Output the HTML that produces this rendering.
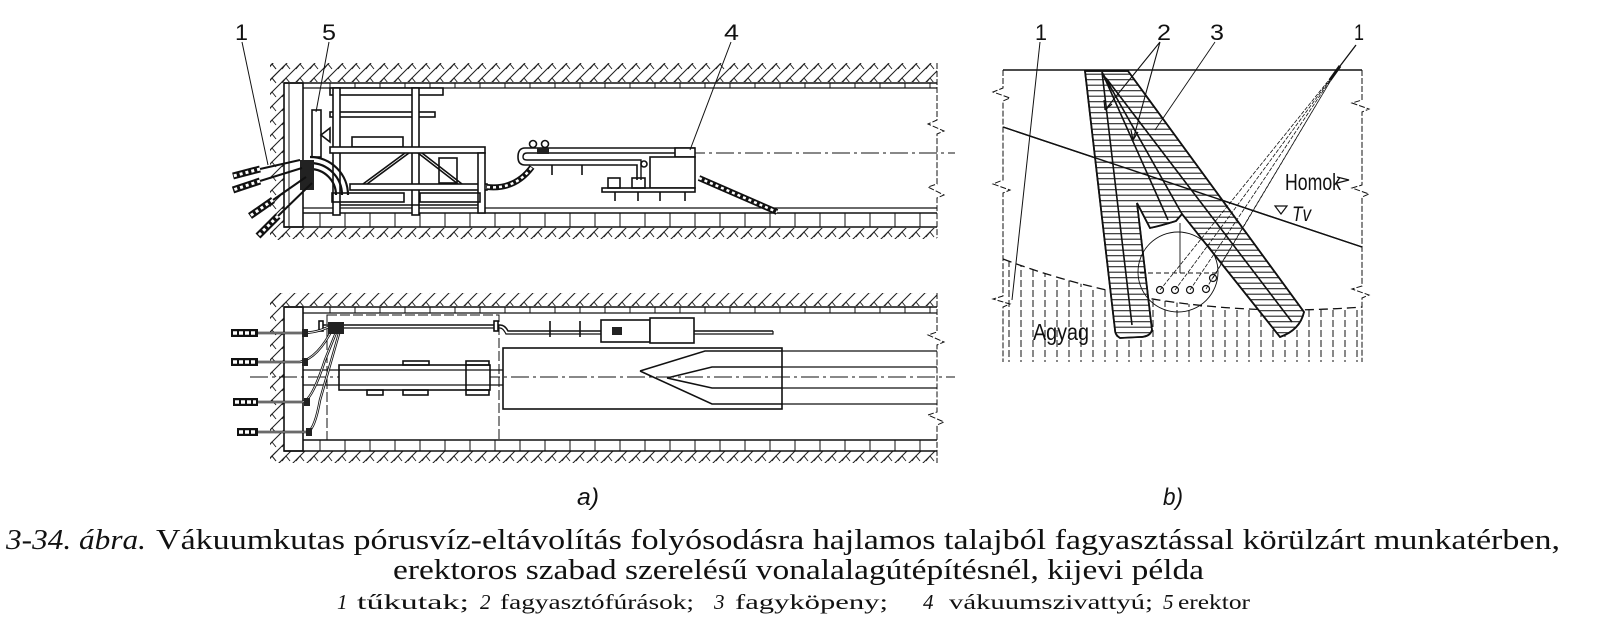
<!DOCTYPE html>
<html><head><meta charset="utf-8"><style>
html,body{margin:0;padding:0;background:#fff;}
svg{display:block;}
</style></head><body>
<svg width="1600" height="640" viewBox="0 0 1600 640" xmlns="http://www.w3.org/2000/svg">
<defs>
<pattern id="h" patternUnits="userSpaceOnUse" width="14" height="14">
<path d="M0 14 L14 0 M-4 4 L4 -4 M10 18 L18 10" stroke="#222" stroke-width="1.1"/>
<path d="M2 13 L6 8 L10 13" stroke="#222" stroke-width="1" fill="none"/>
</pattern>
<pattern id="hz" patternUnits="userSpaceOnUse" width="10" height="5.5">
<path d="M0 2.7 L10 2.7" stroke="#222" stroke-width="1.1"/>
</pattern>
<clipPath id="clay"><path d="M1003 259 Q1170 322 1362 307 L1362 362 L1003 362 Z"/></clipPath>
</defs>
<g fill="none" stroke="#111" stroke-width="1.6">

<!-- ===== TOP TUNNEL ===== -->
<rect x="270" y="63" width="667" height="19" fill="url(#h)" stroke="none"/>
<rect x="270" y="63" width="14" height="177" fill="url(#h)" stroke="none"/>
<rect x="270" y="228" width="667" height="11" fill="url(#h)" stroke="none"/>
<line x1="284" y1="83" x2="937" y2="83"/>
<line x1="303" y1="88" x2="937" y2="88" stroke-width="1.2"/>
<path d="M330 83V88M355 83V88M380 83V88M405 83V88M430 83V88M455 83V88M480 83V88M505 83V88M530 83V88M555 83V88M580 83V88M605 83V88M630 83V88M655 83V88M680 83V88M705 83V88M730 83V88M755 83V88M780 83V88M805 83V88M830 83V88M855 83V88M880 83V88M905 83V88M930 83V88" stroke-width="1"/>
<rect x="284" y="83" width="19" height="144"/>
<line x1="289" y1="83" x2="289" y2="227" stroke-width="1"/>
<line x1="303" y1="208" x2="937" y2="208" stroke-width="1.2"/>
<line x1="303" y1="213" x2="937" y2="213"/>
<line x1="284" y1="227" x2="937" y2="227"/>
<path d="M320 213V227M345 213V227M370 213V227M395 213V227M420 213V227M445 213V227M470 213V227M495 213V227M520 213V227M545 213V227M570 213V227M595 213V227M620 213V227M645 213V227M670 213V227M695 213V227M720 213V227M745 213V227M770 213V227M795 213V227M820 213V227M845 213V227M870 213V227M895 213V227M920 213V227" stroke-width="1"/>
<path d="M937 63 V120 L928 124 L944 131 L937 134 V184 L928 187 L944 195 L937 198 V238" stroke-width="1" stroke-dasharray="6 2"/>
<line x1="600" y1="153" x2="955" y2="153" stroke-width="1" stroke-dasharray="18 4 3 4"/>
<!-- machine -->
<rect x="330" y="88" width="113" height="7" fill="#fff"/>
<rect x="330" y="112" width="105" height="5" fill="#fff"/>
<rect x="333" y="88" width="7" height="127" fill="#fff"/>
<rect x="412" y="88" width="7" height="127" fill="#fff"/>
<rect x="312" y="110" width="9" height="47" fill="#fff"/>
<path d="M321 135 L330 128 L330 142 Z"/>
<rect x="352" y="137" width="51" height="10" fill="#fff"/>
<rect x="330" y="147" width="155" height="6" fill="#fff"/>
<rect x="350" y="184" width="137" height="6" fill="#fff"/>
<path d="M363 184 L405 153 M422 153 L462 184 M367 184 L409 153 M418 153 L458 184"/>
<rect x="439" y="158" width="18" height="25"/>
<rect x="478" y="153" width="7" height="60" fill="#fff"/>
<rect x="332" y="193" width="72" height="9"/>
<rect x="420" y="193" width="60" height="9"/>
<line x1="340" y1="205" x2="478" y2="205"/>
<path d="M310 157 A38 38 0 0 1 348 195 M310 163 A32 32 0 0 1 342 195 M310 169 A26 26 0 0 1 336 195" stroke-width="2.2"/>
<rect x="300" y="160" width="14" height="30" fill="#222" stroke="none"/>
<!-- drills -->
<path d="M300 160 L260 169 M302 168 L260 181 M306 177 L273 200 M312 183 L278 216" stroke-width="2"/>
<path d="M260 169 L233 176 M260 181 L233 190 M273 200 L250 216 M278 216 L258 236" stroke="#111" stroke-width="7"/>
<path d="M260 169 L233 176 M260 181 L233 190 M273 200 L250 216 M278 216 L258 236" stroke="#fff" stroke-width="3" stroke-dasharray="3 3"/>
<!-- hose + pump -->
<path d="M487 187 Q515 190 532 167" stroke="#111" stroke-width="6"/>
<path d="M487 187 Q515 190 532 167" stroke="#fff" stroke-width="2.5" stroke-dasharray="3 3"/>
<path d="M695 148 H525 Q518 148 518 157 Q518 165 525 165 H637 V180" stroke-width="1.6"/>
<path d="M695 153 H527 Q523 153 523 157 Q523 160 527 160 H641 V180" stroke-width="1.4"/>
<circle cx="533" cy="144" r="3.5"/><circle cx="545" cy="144" r="3.5"/>
<rect x="537" y="148" width="12" height="6" fill="#222" stroke="none"/>
<rect x="675" y="148" width="20" height="9" fill="#fff"/>
<rect x="650" y="157" width="45" height="31" fill="#fff"/>
<rect x="602" y="188" width="93" height="4" fill="#fff"/>
<path d="M615 192V201M638 192V201M660 192V201M685 192V201M552 165V175M582 165V175"/>
<rect x="608" y="178" width="12" height="10"/><rect x="632" y="178" width="13" height="10"/>
<circle cx="644" cy="164" r="3"/>
<path d="M699 178 L777 212" stroke="#111" stroke-width="6"/>
<path d="M699 178 L777 212" stroke="#fff" stroke-width="2.5" stroke-dasharray="3 3"/>
<!-- leaders -->
<path d="M242 42 L268 165 M329 42 L316 112 M731 42 L690 150" stroke-width="1"/>

<!-- ===== BOTTOM TUNNEL ===== -->
<rect x="270" y="293" width="667" height="13" fill="url(#h)" stroke="none"/>
<rect x="270" y="293" width="14" height="170" fill="url(#h)" stroke="none"/>
<rect x="270" y="451" width="667" height="12" fill="url(#h)" stroke="none"/>
<line x1="284" y1="307" x2="937" y2="307"/>
<line x1="303" y1="313" x2="937" y2="313" stroke-width="1.2"/>
<path d="M330 307V313M355 307V313M380 307V313M405 307V313M430 307V313M455 307V313M480 307V313M505 307V313M530 307V313M555 307V313M580 307V313M605 307V313M630 307V313M655 307V313M680 307V313M705 307V313M730 307V313M755 307V313M780 307V313M805 307V313M830 307V313M855 307V313M880 307V313M905 307V313M930 307V313" stroke-width="1"/>
<rect x="284" y="307" width="19" height="144"/>
<line x1="303" y1="440" x2="937" y2="440"/>
<line x1="284" y1="451" x2="937" y2="451"/>
<path d="M320 440V451M345 440V451M370 440V451M395 440V451M420 440V451M445 440V451M470 440V451M495 440V451M520 440V451M545 440V451M570 440V451M595 440V451M620 440V451M645 440V451M670 440V451M695 440V451M720 440V451M745 440V451M770 440V451M795 440V451M820 440V451M845 440V451M870 440V451M895 440V451M920 440V451" stroke-width="1"/>
<path d="M937 293 V332 L928 335 L944 342 L937 345 V412 L928 415 L944 422 L937 425 V463" stroke-width="1" stroke-dasharray="6 2"/>
<line x1="250" y1="377" x2="955" y2="377" stroke-width="1" stroke-dasharray="18 4 3 4"/>
<rect x="327" y="315" width="172" height="125" stroke-width="1" stroke-dasharray="10 3"/>
<!-- pipes -->
<path d="M322 325 H500 Q505 325 508 331 H773" stroke-width="1.5"/>
<path d="M322 328 H500 Q503 328 506 334 H773 V331" stroke-width="1.2"/>
<rect x="319" y="321" width="4" height="10" fill="#fff"/><rect x="494" y="321" width="4" height="10" fill="#fff"/>
<path d="M550 321V337M580 321V337"/>
<rect x="601" y="320" width="49" height="22" fill="#fff"/>
<rect x="650" y="318" width="44" height="25" fill="#fff"/>
<rect x="612" y="327" width="10" height="8" fill="#222" stroke="none"/>
<!-- machine body -->
<rect x="339" y="365" width="151" height="25" fill="#fff"/>
<line x1="303" y1="370" x2="503" y2="370" stroke-width="1.2"/>
<line x1="303" y1="385" x2="503" y2="385" stroke-width="1.2"/>
<rect x="403" y="361" width="26" height="4"/><rect x="466" y="361" width="23" height="4"/>
<rect x="367" y="390" width="16" height="5"/><rect x="403" y="390" width="25" height="5"/><rect x="466" y="390" width="23" height="5"/>
<line x1="466" y1="365" x2="466" y2="390"/>
<!-- big box -->
<rect x="503" y="348" width="279" height="61"/>
<path d="M782 351H937M782 367H937M782 388H937M782 404H937" stroke-width="1.3"/>
<path d="M640 371 L705 351 H782 M640 371 L712 404 H782 M667 378 L712 367 H782 M667 378 L712 388 H782"/>
<!-- drills bottom -->
<path d="M258 333 H300 Q318 333 330 326 M258 362 H300 Q318 358 333 328 M258 402 H303 Q312 400 325 360 L337 330 M258 432 H308 Q315 428 320 400 L340 330" stroke-width="2.5"/>
<path d="M258 333 H300 Q318 333 330 326 M258 362 H300 Q318 358 333 328 M258 402 H303 Q312 400 325 360 L337 330 M258 432 H308 Q315 428 320 400 L340 330" stroke="#fff" stroke-width="0.8"/>
<path d="M231 333H258M231 362H258M233 402H258M237 432H258" stroke="#111" stroke-width="8"/>
<path d="M233 333H256M233 362H256M235 402H256M239 432H256" stroke="#fff" stroke-width="3.5" stroke-dasharray="4 2"/>
<rect x="302" y="329" width="6" height="8" fill="#222" stroke="none"/><rect x="302" y="358" width="6" height="8" fill="#222" stroke="none"/>
<rect x="304" y="398" width="6" height="8" fill="#222" stroke="none"/><rect x="306" y="428" width="6" height="8" fill="#222" stroke="none"/>
<rect x="328" y="322" width="16" height="12" fill="#222" stroke="none"/>

<!-- ===== DIAGRAM B ===== -->
<line x1="1003" y1="70" x2="1362" y2="70"/>
<path d="M1003 70 V88 L993 92 L1010 98 L1003 101 V180 L993 184 L1010 190 L1003 193 V296 L993 299 L1010 304 L1003 307 V362" stroke-width="1" stroke-dasharray="6 2"/>
<path d="M1362 70 V100 L1352 103 L1369 109 L1362 112 V185 L1352 188 L1369 194 L1362 197 V286 L1352 289 L1369 295 L1362 298 V362" stroke-width="1" stroke-dasharray="6 2"/>
<g clip-path="url(#clay)" stroke-width="1" stroke-dasharray="7 3">
<path d="M1009 250V362M1021 250V362M1033 250V362M1045 250V362M1057 250V362M1069 250V362M1081 250V362M1093 250V362M1105 250V362M1117 250V362M1129 250V362M1141 250V362M1153 250V362M1165 250V362M1177 250V362M1189 250V362M1201 250V362M1213 250V362M1225 250V362M1237 250V362M1249 250V362M1261 250V362M1273 250V362M1285 250V362M1297 250V362M1309 250V362M1321 250V362M1333 250V362M1345 250V362M1357 250V362"/>
</g>
<path d="M1003 259 Q1170 322 1362 307" stroke-width="1.3" stroke-dasharray="9 5"/>
<line x1="1003" y1="127" x2="1362" y2="247" stroke-width="1.4"/>
<!-- frozen zone -->
<path d="M1085 71 L1128 71 L1304 312 Q1300 330 1280 337 L1182 214 L1176 221 Q1160 226 1150 228 L1137 203 L1152 330 Q1150 337 1140 337 L1120 338 Q1115 335 1115 330 Z" fill="#fff"/>
<path d="M1085 71 L1128 71 L1304 312 Q1300 330 1280 337 L1182 214 L1176 221 Q1160 226 1150 228 L1137 203 L1152 330 Q1150 337 1140 337 L1120 338 Q1115 335 1115 330 Z" fill="url(#hz)" stroke-width="1.8"/>
<path d="M1102 72 L1132 325 M1102 72 L1168 220 M1102 72 L1182 214 M1106 78 L1292 322" stroke-width="1.6"/>
<path d="M1003 127 L1362 247" stroke-width="1.4"/>
<circle cx="1178" cy="272" r="40" stroke-width="0.9"/>
<line x1="1140" y1="273" x2="1220" y2="273" stroke-width="1" stroke-dasharray="5 3"/>
<line x1="1180" y1="223" x2="1180" y2="273" stroke-width="0.9"/>
<g stroke-width="1.2"><circle cx="1160" cy="290" r="3.5"/><circle cx="1175" cy="290" r="3.5"/><circle cx="1190" cy="290" r="3.5"/><circle cx="1206" cy="289" r="3.5"/><circle cx="1213" cy="278" r="3.5"/></g>
<path d="M1160 290 L1337 70 M1175 290 L1337 70 M1190 290 L1337 70 M1206 289 L1337 70 M1213 278 L1337 70" stroke-width="0.8" stroke-dasharray="4 1.5"/>
<path d="M1337 70 L1356 45" stroke-width="1.3"/>
<path d="M1330 80 L1340 66" stroke-width="3"/>
<!-- leaders b -->
<path d="M1040 42 L1012 300" stroke-width="1"/>
<path d="M1160 42 L1105 110 M1160 42 L1133 140" stroke-width="1.1"/>
<path d="M1105 110 L1104 100 M1105 110 L1112 104 M1133 140 L1131 130 M1133 140 L1138 132" stroke-width="1.2"/>
<path d="M1215 42 L1155 130" stroke-width="0.9"/>
<path d="M1337 183 L1349 180 L1337 177 M1275 206 L1287 206 L1281 214 Z" stroke-width="1.2"/>
</g>

<g font-family="Liberation Sans, DejaVu Sans, sans-serif" fill="#111" font-size="22">
<text x="235" y="40" textLength="13" lengthAdjust="spacingAndGlyphs">1</text>
<text x="322" y="40" textLength="14" lengthAdjust="spacingAndGlyphs">5</text>
<text x="724" y="40" textLength="15" lengthAdjust="spacingAndGlyphs">4</text>
<text x="1035" y="40" textLength="12" lengthAdjust="spacingAndGlyphs">1</text>
<text x="1157" y="40" textLength="14" lengthAdjust="spacingAndGlyphs">2</text>
<text x="1210" y="40" textLength="14" lengthAdjust="spacingAndGlyphs">3</text>
<text x="1354" y="40" textLength="10" lengthAdjust="spacingAndGlyphs">1</text>
<text x="1285" y="190" font-size="23" textLength="56" lengthAdjust="spacingAndGlyphs">Homok</text>
<text x="1292" y="221" font-size="21" font-style="italic" textLength="19" lengthAdjust="spacingAndGlyphs">Tv</text>
<text x="1033" y="340" font-size="23" textLength="56" lengthAdjust="spacingAndGlyphs">Agyag</text>
<text x="577" y="505" font-size="24" font-style="italic" textLength="22" lengthAdjust="spacingAndGlyphs">a)</text>
<text x="1163" y="505" font-size="24" font-style="italic" textLength="20" lengthAdjust="spacingAndGlyphs">b)</text>
</g>
<g font-family="Liberation Serif, DejaVu Serif, serif" fill="#111">
<text x="6" y="549" font-size="28" font-style="italic" textLength="140" lengthAdjust="spacingAndGlyphs">3-34. ábra.</text>
<text x="156" y="549" font-size="28" textLength="1404" lengthAdjust="spacingAndGlyphs">Vákuumkutas pórusvíz-eltávolítás folyósodásra hajlamos talajból fagyasztással körülzárt munkatérben,</text>
<text x="393" y="579" font-size="28" textLength="811" lengthAdjust="spacingAndGlyphs">erektoros szabad szerelésű vonalalagútépítésnél, kijevi példa</text>
<g font-size="21">
<text x="337" y="609" font-style="italic">1</text>
<text x="357" y="609" textLength="112" lengthAdjust="spacingAndGlyphs">tűkutak;</text>
<text x="480" y="609" font-style="italic">2</text>
<text x="500" y="609" textLength="194" lengthAdjust="spacingAndGlyphs">fagyasztófúrások;</text>
<text x="714" y="609" font-style="italic">3</text>
<text x="735" y="609" textLength="153" lengthAdjust="spacingAndGlyphs">fagyköpeny;</text>
<text x="923" y="609" font-style="italic">4</text>
<text x="949" y="609" textLength="204" lengthAdjust="spacingAndGlyphs">vákuumszivattyú;</text>
<text x="1163" y="609" font-style="italic">5</text>
<text x="1178" y="609" textLength="72" lengthAdjust="spacingAndGlyphs">erektor</text>
</g>
</g>
</svg>
</body></html>
